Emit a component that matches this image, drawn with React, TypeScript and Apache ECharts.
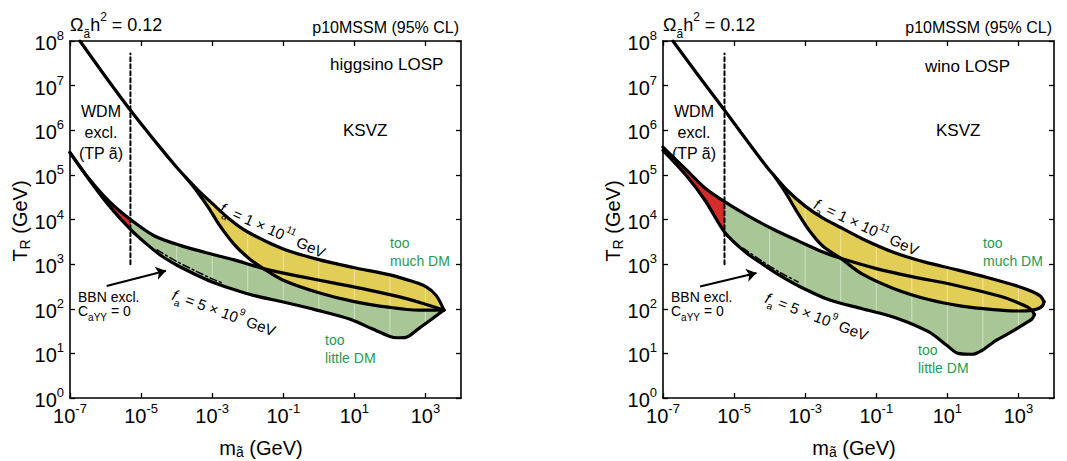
import React, { useEffect, useRef } from 'react';
import * as echarts from 'echarts';

type P = [number, number];

// Axes are logarithmic: values are log10(m / GeV) and log10(T_R / GeV)
const xTickExps = [-7, -5, -3, -1, 1, 3];
// faint seams in the filled bands, one per decade of m
const seamExps = [-4, -3, -2, -1, 0, 1, 2, 3];

// ---- higgsino LOSP panel ----
const hFa11Upper: P[] = [[-6.72, 8.0], [-6.0, 7.2], [-5.3, 6.45], [-4.5, 5.65], [-4.0, 5.17], [-3.75, 4.95], [-3.4, 4.66], [-3.0, 4.36], [-2.5, 4.0], [-2.0, 3.72], [-1.0, 3.34], [0.0, 3.1], [1.0, 2.92], [2.0, 2.76], [2.6, 2.62], [3.0, 2.5], [3.3, 2.3], [3.52, 1.97]];
const hFa11Lower: P[] = [[-3.75, 4.95], [-3.4, 4.6], [-3.1, 4.26], [-2.8, 3.88], [-2.4, 3.46], [-2.0, 3.15], [-1.56, 2.9], [-1.0, 2.64], [0.0, 2.36], [1.0, 2.16], [2.0, 2.03], [2.8, 1.97], [3.52, 1.97]];
const hFa5Upper: P[] = [[-7, 5.5], [-6.44, 4.89], [-5.89, 4.4], [-5.3, 4.0], [-4.62, 3.63], [-3.9, 3.42], [-3.0, 3.22], [-2.4, 3.1], [-1.56, 2.9], [-0.5, 2.72], [0.4, 2.58], [1.35, 2.43], [2.3, 2.26], [3.0, 2.1], [3.52, 1.97]];
const hFa5Lower: P[] = [[-7, 5.5], [-6.44, 4.87], [-5.89, 4.3], [-5.3, 3.78], [-4.8, 3.42], [-4.4, 3.17], [-4.0, 2.98], [-3.5, 2.78], [-3.0, 2.6], [-2.5, 2.46], [-1.84, 2.3], [-1.0, 2.15], [-0.06, 1.97], [0.9, 1.76], [1.5, 1.55], [2.0, 1.38], [2.2, 1.35], [2.45, 1.36], [2.8, 1.55], [3.2, 1.78], [3.52, 1.97]];
const hBBN: P[] = [[-4.55, 3.32], [-4.0, 3.06], [-3.5, 2.86], [-3.0, 2.67], [-2.75, 2.59]];
const hWDM: P[] = [[-5.3, 3.0], [-5.3, 7.72]];
const hArrow: P[] = [[-5.97, 2.51], [-4.3, 2.85]];

// ---- wino LOSP panel ----
const wFa11Upper: P[] = [[-6.72, 8.0], [-6.0, 7.22], [-5.3, 6.48], [-4.5, 5.62], [-4.1, 5.2], [-3.9, 5.01], [-3.5, 4.65], [-3.0, 4.3], [-2.5, 4.03], [-2.0, 3.82], [-1.4, 3.57], [-0.5, 3.26], [0.35, 3.05], [1.23, 2.88], [2.12, 2.7], [3.0, 2.5], [3.4, 2.38], [3.62, 2.28], [3.72, 2.16]];
const wFa11Lower: P[] = [[-3.9, 5.01], [-3.55, 4.6], [-3.25, 4.2], [-2.89, 3.76], [-2.5, 3.4], [-2.0, 3.13], [-1.4, 2.78], [-0.5, 2.45], [0.5, 2.2], [1.4, 2.06], [2.3, 1.98], [2.9, 1.95], [3.3, 1.96], [3.55, 2.0], [3.68, 2.07], [3.72, 2.16]];
const wFa5Upper: P[] = [[-7, 5.62], [-6.34, 5.11], [-5.81, 4.7], [-5.27, 4.4], [-4.58, 4.07], [-3.87, 3.77], [-3.17, 3.51], [-2.5, 3.27], [-2.0, 3.13], [-1.0, 2.9], [0.0, 2.72], [1.1, 2.55], [2.0, 2.38], [2.6, 2.25], [3.0, 2.13], [3.25, 2.04], [3.38, 1.96], [3.45, 1.87]];
const wFa5Lower: P[] = [[-7, 5.55], [-6.34, 4.98], [-5.81, 4.42], [-5.27, 3.72], [-4.7, 3.28], [-4.2, 3.0], [-3.7, 2.74], [-3.26, 2.54], [-2.33, 2.2], [-1.4, 2.0], [-0.46, 1.8], [0.48, 1.48], [1.0, 1.17], [1.3, 1.0], [1.7, 0.98], [2.0, 1.08], [2.35, 1.28], [2.8, 1.48], [3.17, 1.66], [3.38, 1.77], [3.45, 1.87]];
const wBBN: P[] = [[-4.75, 3.36], [-4.2, 3.06], [-3.7, 2.81], [-3.2, 2.6]];
const wWDM: P[] = [[-5.27, 3.0], [-5.27, 7.72]];
const wArrow: P[] = [[-5.96, 2.5], [-4.37, 2.8]];

const FONT = "'Liberation Sans', Arial, Helvetica, sans-serif";
const RED = '#d42b2b';
const GREEN = '#a9c796';
const YELLOW = '#e2ce57';
const GREEN_TEXT = '#1f9b52';

const GRID_W = 391;
const GRID_H = 357;
const GRID_TOP = 41;
const PANEL_LEFT = [70, 663];

interface PanelData {
  upper11: P[]; lower11: P[]; upper5: P[]; lower5: P[]; bbn: P[]; wdm: P[]; arrow: P[];
}

const panels: PanelData[] = [
  { upper11: hFa11Upper, lower11: hFa11Lower, upper5: hFa5Upper, lower5: hFa5Lower, bbn: hBBN, wdm: hWDM, arrow: hArrow },
  { upper11: wFa11Upper, lower11: wFa11Lower, upper5: wFa5Upper, lower5: wFa5Lower, bbn: wBBN, wdm: wWDM, arrow: wArrow },
];

const supRich = {
  b: { fontSize: 20, fontFamily: FONT, color: '#000', lineHeight: 24, verticalAlign: 'bottom' },
  s: { fontSize: 13, fontFamily: FONT, color: '#000', lineHeight: 13, verticalAlign: 'top' },
};
const powFmt = (v: number) => `{b|10}{s|${v}}`;

function polygonSeries(pts: P[], color: string, xi: number, yi: number, z: number, seams: boolean) {
  return {
    type: 'custom',
    xAxisIndex: xi,
    yAxisIndex: yi,
    z,
    silent: true,
    clip: true,
    data: pts,
    renderItem: (params: any, api: any) => {
      if (params.dataIndex !== 0) return null;
      const points = pts.map((p) => api.coord(p));
      const children: any[] = [
        { type: 'polygon', shape: { points }, style: { fill: color, stroke: color, lineWidth: 0.5 } },
      ];
      if (seams) {
        const xs = pts.map((p) => p[0]);
        const lo = Math.min(...xs), hi = Math.max(...xs);
        const top = api.coord([0, 8])[1];
        const bottom = api.coord([0, 0])[1];
        const lines = seamExps
          .filter((s) => s > lo && s < hi)
          .map((s) => {
            const x = api.coord([s, 0])[0];
            return { type: 'line', shape: { x1: x, y1: top, x2: x, y2: bottom }, style: { stroke: '#ffffff', opacity: 0.45, lineWidth: 1 } };
          });
        children.push({ type: 'group', children: lines, clipPath: { type: 'polygon', shape: { points } } });
      }
      return { type: 'group', children };
    },
  };
}

function lineSeries(pts: P[], xi: number, yi: number, width: number, type: any, smooth: number, z = 5) {
  return {
    type: 'line',
    xAxisIndex: xi,
    yAxisIndex: yi,
    data: pts,
    showSymbol: false,
    symbol: 'none',
    smooth,
    silent: true,
    clip: true,
    z,
    lineStyle: { color: '#000', width, type, cap: 'round', join: 'round' },
  };
}

function buildPanel(i: number) {
  const d = panels[i];
  const xi = i * 2;
  const yi = i * 2;
  const dashX = d.wdm[0][0];
  const splitX = d.lower11[0][0];
  const e = d.upper5, f = d.lower5;
  const red = [...e.filter((p) => p[0] <= dashX), ...f.filter((p) => p[0] <= dashX).reverse()];
  const green = [...e.filter((p) => p[0] >= dashX), ...f.filter((p) => p[0] >= dashX).reverse()];
  const yellow = [...d.upper11.filter((p) => p[0] >= splitX), ...d.lower11.slice().reverse()];
  return [
    polygonSeries(green, GREEN, xi, yi, 1, true),
    polygonSeries(red, RED, xi, yi, 1, false),
    polygonSeries(yellow, YELLOW, xi, yi, 2, true),
    lineSeries(d.upper11, xi, yi, 3.2, 'solid', 0.3),
    lineSeries(d.lower11, xi, yi, 3.2, 'solid', 0.3),
    lineSeries(d.upper5, xi, yi, 3.2, 'solid', 0.3),
    lineSeries(d.lower5, xi, yi, 3.2, 'solid', 0.3),
    lineSeries(d.wdm, xi, yi, 2, [4, 3], 0, 6),
    lineSeries(d.bbn, xi, yi, 1.5, [7, 3, 2, 3], 0.3, 6),
    {
      type: 'lines',
      coordinateSystem: 'cartesian2d',
      xAxisIndex: xi,
      yAxisIndex: yi,
      silent: true,
      z: 7,
      symbol: ['none', 'arrow'],
      symbolSize: 10,
      lineStyle: { color: '#000', width: 2, opacity: 1 },
      data: [{ coords: d.arrow }],
    },
  ];
}

function xAxis(gridIndex: number, position: 'top' | 'bottom', showLabel: boolean) {
  return {
    type: 'value',
    gridIndex,
    position,
    min: -7,
    max: 4,
    axisLine: { show: true, onZero: false, lineStyle: { color: '#000', width: 1.6 } },
    axisTick: { show: true, inside: true, length: 5, customValues: xTickExps, lineStyle: { color: '#000', width: 1.3 } },
    axisLabel: { show: showLabel, customValues: xTickExps, formatter: powFmt, rich: supRich, margin: 4 },
    splitLine: { show: false },
  };
}

function yAxis(gridIndex: number, position: 'left' | 'right', showLabel: boolean) {
  return {
    type: 'value',
    gridIndex,
    position,
    min: 0,
    max: 8,
    interval: 1,
    axisLine: { show: true, onZero: false, lineStyle: { color: '#000', width: 1.6 } },
    axisTick: { show: true, inside: true, length: 5, lineStyle: { color: '#000', width: 1.3 } },
    axisLabel: { show: showLabel, formatter: powFmt, rich: supRich, margin: 6 },
    splitLine: { show: false },
  };
}

function text(x: number, y: number, t: string, o: any = {}) {
  const align = o.align || 'left';
  const va = o.va || 'middle';
  return {
    type: 'text',
    x,
    y,
    rotation: o.rotation || 0,
    z: 100,
    silent: true,
    style: {
      text: t,
      fill: o.color || '#000',
      fontSize: o.fontSize || 16,
      fontFamily: FONT,
      fontStyle: o.fontStyle || 'normal',
      align,
      textAlign: align,
      verticalAlign: va,
      textVerticalAlign: va,
      lineHeight: o.lineHeight,
      rich: o.rich,
    },
  };
}

const mathRich = (size: number, lh = 1.6) => ({
  n: { fontSize: size, fontFamily: FONT, color: '#000', lineHeight: Math.round(size * lh), verticalAlign: 'middle' },
  i: { fontSize: size, fontFamily: FONT, fontStyle: 'italic', color: '#000', lineHeight: Math.round(size * lh), verticalAlign: 'middle' },
  sub: { fontSize: Math.round(size * 0.68), fontFamily: FONT, color: '#000', lineHeight: Math.round(size * 0.75), verticalAlign: 'bottom' },
  sup: { fontSize: Math.round(size * 0.68), fontFamily: FONT, color: '#000', lineHeight: Math.round(size * 0.75), verticalAlign: 'top' },
});

function panelTexts(i: number) {
  const dx = PANEL_LEFT[i] - PANEL_LEFT[0];
  const isH = i === 0;
  const out: any[] = [
    text(70 + dx, 25, '{n|Ω}{sub|ã}{n|h}{sup|2}{n| = 0.12}', { rich: mathRich(18) }),
    text(459 + dx, 27, 'p10MSSM (95% CL)', { align: 'right', fontSize: 16 }),
    text(isH ? 330 : 925, isH ? 64 : 66, isH ? 'higgsino LOSP' : 'wino LOSP', { fontSize: 17 }),
    text(343 + dx, 130, 'KSVZ', { fontSize: 17 }),
    text(101 + dx, 111, 'WDM', { align: 'center', fontSize: 16 }),
    text(101 + dx, 132, 'excl.', { align: 'center', fontSize: 16 }),
    text(101 + dx, 153, '(TP ã)', { align: 'center', fontSize: 16 }),
    text(390 + dx, 243, 'too', { fontSize: 14, color: GREEN_TEXT }),
    text(390 + dx, 261, 'much DM', { fontSize: 14, color: GREEN_TEXT }),
    text(isH ? 325 : 918, isH ? 340 : 350, 'too', { fontSize: 14, color: GREEN_TEXT }),
    text(isH ? 325 : 918, isH ? 358 : 368, 'little DM', { fontSize: 14, color: GREEN_TEXT }),
    text(78 + dx, 297, 'BBN excl.', { fontSize: 14 }),
    text(78 + dx, 311, '{n|C}{sub|aYY}{n| = 0}', { rich: mathRich(14) }),
    text(isH ? 221 : 815, isH ? 207 : 203, '{i|f}{sub|a}{n| = 1 × 10}{sup|11}{n| GeV}', { rich: mathRich(15), rotation: -(isH ? 24 : 25) * Math.PI / 180 }),
    text(isH ? 173 : 766, isH ? 294 : 297, '{i|f}{sub|a}{n| = 5 × 10}{sup|9}{n| GeV}', { rich: mathRich(15), rotation: -(isH ? 20 : 21) * Math.PI / 180 }),
    text(20 + dx, 221, '{n|T}{sub|R}{n| (GeV)}', { rich: mathRich(20, 1.2), align: 'center', rotation: Math.PI / 2 }),
    text(261 + dx, 448, '{n|m}{sub|ã}{n| (GeV)}', { rich: mathRich(20, 1.1), align: 'center' }),
  ];
  return out;
}

export default function App() {
  const ref = useRef<HTMLDivElement>(null);
  useEffect(() => {
    document.body.style.margin = '0';
    const chart = echarts.init(ref.current!, undefined, { renderer: 'svg' });
    const option: any = {
      animation: false,
      backgroundColor: '#fff',
      textStyle: { fontFamily: FONT },
      grid: PANEL_LEFT.map((l) => ({ left: l, top: GRID_TOP, width: GRID_W, height: GRID_H, containLabel: false })),
      xAxis: [xAxis(0, 'bottom', true), xAxis(0, 'top', false), xAxis(1, 'bottom', true), xAxis(1, 'top', false)],
      yAxis: [yAxis(0, 'left', true), yAxis(0, 'right', false), yAxis(1, 'left', true), yAxis(1, 'right', false)],
      series: [...buildPanel(0), ...buildPanel(1)],
      graphic: [...panelTexts(0), ...panelTexts(1)],
    };
    chart.setOption(option);
    return () => chart.dispose();
  }, []);
  return <div ref={ref} style={{ width: 1067, height: 461, position: 'absolute', left: 0, top: 0 }} />;
}
